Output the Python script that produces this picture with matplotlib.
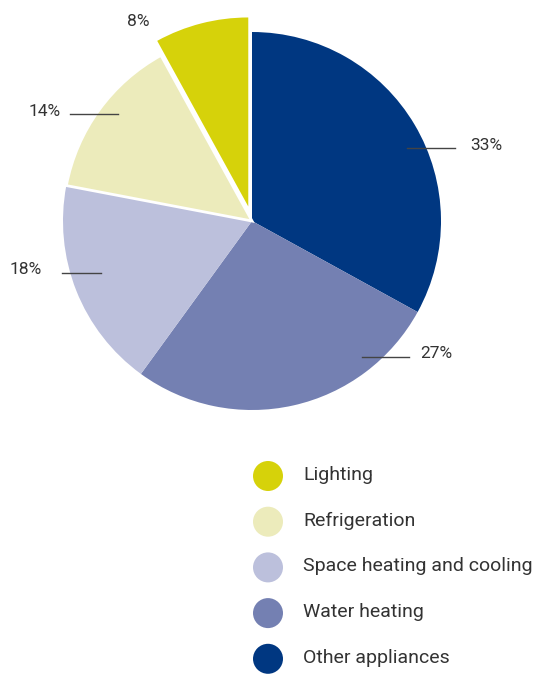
import matplotlib.pyplot as plt
from matplotlib.patches import Circle

# data, clockwise from 12 o'clock
labels = ["Other appliances", "Water heating", "Space heating and cooling",
          "Refrigeration", "Lighting"]
shares = [33, 27, 18, 14, 8]
colors = ["#003781", "#7480b2", "#bcc0dc", "#ecebbb", "#d6d20a"]

# legend order (top to bottom)
legend_order = ["Lighting", "Refrigeration", "Space heating and cooling",
                "Water heating", "Other appliances"]

plt.rcParams['font.family'] = ['Roboto', 'DejaVu Sans']

W, H = 544, 674
fig = plt.figure(figsize=(W / 100, H / 100), dpi=100)
ax = fig.add_axes([0, 0, 1, 1])

cx, cy, r = 252, H - 221, 189
# pie explode is an absolute offset here since data units are pixels
explode = [0, 0, 0, 0, 15]
wedges, _ = ax.pie(shares, colors=colors, explode=explode, startangle=90,
                   counterclock=False, center=(cx, cy), radius=r, frame=True,
                   wedgeprops=dict(linewidth=0))
# thin white separator around the refrigeration slice
wedges[3].set_edgecolor("white")
wedges[3].set_linewidth(2)

ax.set_xlim(0, W)
ax.set_ylim(0, H)
ax.axis('off')

txt = "#333333"
# percentage labels with leader lines (pixel positions from the reference)
callouts = [
    # (share index, line x0, line x1, line y, text x, ha)
    (0, 407, 455, 148, 470, 'left'),
    (1, 362, 409, 357, 420, 'left'),
    (2, 62, 101, 273, 42, 'right'),
    (3, 70, 118, 114, 61, 'right'),
]
for i, x0, x1, y, tx, ha in callouts:
    ax.plot([x0, x1], [H - y, H - y], color="#444444", lw=1)
    ax.text(tx, H - y + 3, f"{shares[i]}%", ha=ha, va='center',
            fontsize=12.5, color=txt)
ax.text(150, H - 21, f"{shares[4]}%", ha='right', va='center',
        fontsize=12.5, color=txt)

# legend
for k, name in enumerate(legend_order):
    y = H - (476 + k * 45.7)
    c = colors[labels.index(name)]
    ax.add_patch(Circle((268, y), 15, color=c, lw=0))
    ax.text(303, y + 1, name, ha='left', va='center', fontsize=14, color=txt)

fig.savefig("out.png", dpi=100)
